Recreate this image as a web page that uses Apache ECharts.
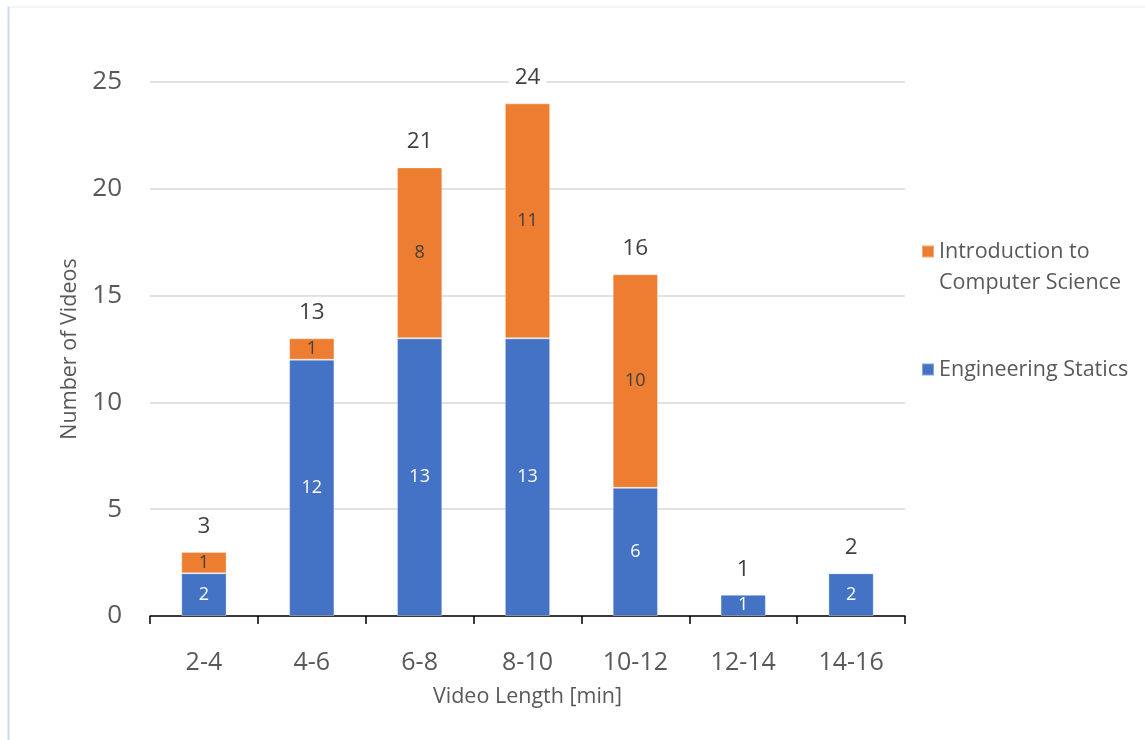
<!DOCTYPE html>
<html>
<head>
<meta charset="UTF-8">
<title>Video length</title>
<script src="https://cdn.jsdelivr.net/npm/echarts@6/dist/echarts.min.js"></script>
<style type="text/css">
   html, body{
      margin:0;
      padding:0;
      background-color:#ffffff;
   }
   #container{
      width:1145px;
      height:740px;
   }
</style>
</head>
<body>
<div id="container"></div>
<script type="text/javascript">
var categories = ['2-4', '4-6', '6-8', '8-10', '10-12', '12-14', '14-16'];
var statics = [2, 12, 13, 13, 6, 1, 2];
var compSci = [1, 1, 8, 11, 10, 0, 0];
var totals = [3, 13, 21, 24, 16, 1, 2];

var myChart = echarts.init(document.getElementById('container'));
var font = 'Open Sans';
var csName = 'Introduction to\nComputer Science';

var option = {
    animation: false,
    textStyle: { fontFamily: font },
    graphic: [
        { type: 'line', shape: { x1: 8, y1: 7, x2: 1145, y2: 7 }, style: { stroke: '#ececec', lineWidth: 1 } },
        { type: 'line', shape: { x1: 8.5, y1: 7, x2: 8.5, y2: 740 }, style: { stroke: '#c9d8f0', lineWidth: 2 } }
    ],
    grid: { left: 150, right: 240, top: 82, bottom: 124 },
    legend: {
        orient: 'vertical',
        left: 916,
        top: 200,
        itemWidth: 12,
        itemHeight: 12,
        itemGap: 56,
        icon: 'rect',
        data: [csName, 'Engineering Statics'],
        // blank first line so the square lines up with "Introduction to"
        formatter: function (name) { return name === csName ? ' \n' + name : name; },
        textStyle: { color: '#595959', fontSize: 21.5, fontFamily: font, lineHeight: 31 }
    },
    xAxis: {
        type: 'category',
        data: categories,
        name: 'Video Length [min]',
        nameLocation: 'middle',
        nameGap: 70,
        nameTextStyle: { color: '#595959', fontSize: 21.5 },
        axisLine: { lineStyle: { color: '#000000', width: 1.5 } },
        axisTick: { show: true, length: 8, lineStyle: { color: '#000000', width: 1.5 } },
        axisLabel: { color: '#595959', fontSize: 25, margin: 34 }
    },
    yAxis: {
        type: 'value',
        min: 0,
        max: 25,
        interval: 5,
        name: 'Number of Videos',
        nameLocation: 'middle',
        nameGap: 67,
        nameTextStyle: { color: '#595959', fontSize: 21.5 },
        axisLine: { show: false },
        axisTick: { show: false },
        axisLabel: { color: '#595959', fontSize: 26, margin: 28 },
        splitLine: { lineStyle: { color: '#d9d9d9', width: 1.5 } }
    },
    series: [
        {
            name: 'Engineering Statics',
            type: 'bar',
            stack: 'v',
            barWidth: '42%',
            itemStyle: { color: '#4472C4', borderColor: 'rgba(255,255,255,0.35)', borderWidth: 1 },
            label: { show: true, position: 'inside', color: '#ffffff', fontSize: 18,
                formatter: function (p) { return p.value > 0 ? p.value : ''; } },
            data: statics
        },
        {
            name: csName,
            type: 'bar',
            stack: 'v',
            itemStyle: { color: '#ED7D31', borderColor: 'rgba(255,255,255,0.35)', borderWidth: 1 },
            label: { show: true, position: 'inside', color: '#404040', fontSize: 18,
                formatter: function (p) { return p.value > 0 ? p.value : ''; } },
            data: compSci
        },
        {
            name: 'total',
            type: 'bar',
            stack: 'v',
            itemStyle: { color: 'transparent' },
            label: { show: true, position: 'top', distance: 14, color: '#404040', fontSize: 22.5,
                backgroundColor: '#ffffff', padding: [0, 6],
                formatter: function (p) { return totals[p.dataIndex]; } },
            data: totals.map(function () { return 0; })
        }
    ]
};
myChart.setOption(option, true);
</script>
</body>
</html>
